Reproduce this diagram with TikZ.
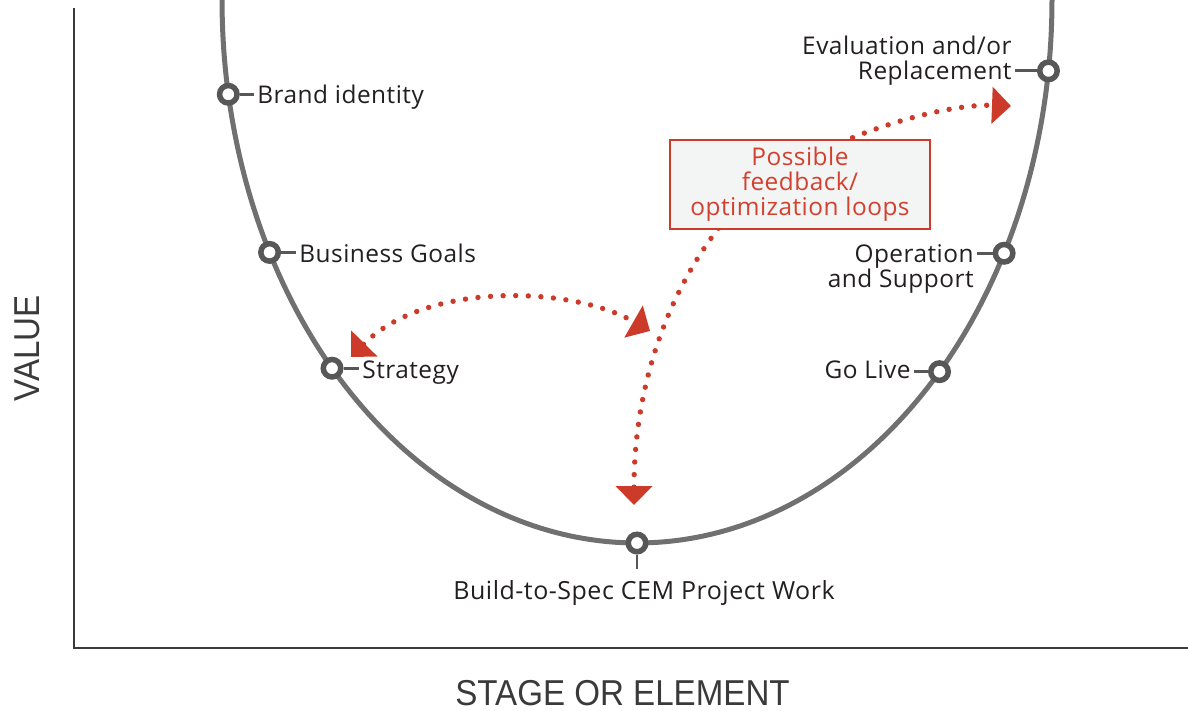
\documentclass[tikz,border=0pt]{standalone}
\usepackage{fontspec}
\usepackage{graphicx}
\setmainfont{Open Sans}[LetterSpace=2]
\newfontfamily\axisfont{Liberation Sans}
\usetikzlibrary{arrows.meta,calc}
\definecolor{curvegray}{HTML}{707070}
\definecolor{ringgray}{HTML}{575757}
\definecolor{txt}{HTML}{231F20}
\definecolor{axisgray}{HTML}{3A3A3A}
\definecolor{loopred}{HTML}{CC3A2A}
\definecolor{looptext}{HTML}{D4402F}
\definecolor{boxfill}{HTML}{F3F5F4}
\begin{document}
\begin{tikzpicture}[x=0.5pt,y=-0.5pt,
  stagedot/.style={circle,draw=ringgray,fill=white,line width=2.75pt,minimum size=8.75pt,inner sep=0pt},
  lbl/.style={text=txt,font=\fontsize{12.2}{12.4}\selectfont,inner sep=0pt},
  tickline/.style={draw=ringgray,line width=1.4pt,shorten >=1.5pt},
  loopline/.style={draw=loopred,line width=2.7pt,line cap=round,dash pattern=on 0pt off 6.3pt},
  twotips/.style={{Triangle[length=9.5pt,width=18pt]}-{Triangle[length=9.5pt,width=18pt]}},
  axisline/.style={draw=axisgray,line width=0.9pt},
  axislbl/.style={text=axisgray,font=\axisfont\fontsize{18}{18}\selectfont,inner sep=0pt},
  loopbox/.style={draw=loopred,line width=1pt,fill=boxfill,text=looptext,align=center,
    minimum width=130pt,minimum height=44.5pt,inner sep=0pt,font=\fontsize{12.2}{12.5}\selectfont}
]
\useasboundingbox (0,0) rectangle (1188,711);

% axes
\coordinate (ytop) at (74,8);
\coordinate (origin) at (74,648);
\coordinate (xend) at (1188,648);
\draw[axisline] (ytop) -- (origin) -- (xend);
\node[axislbl,rotate=90] (yaxis) at (27.5,348.5) {\scalebox{0.92}[1]{VALUE}};
\node[axislbl] (xaxis) at (622.5,693.5) {\scalebox{0.92}[1]{STAGE OR ELEMENT}};

% U curve
\begin{scope}
\clip (0,0) rectangle (1188,711);
\draw[curvegray,line width=2.5pt] plot[domain=-3:183,samples=181] ({637+415*cos(\x)},{543*sin(\x)});
\end{scope}

% stage dots
\foreach \n/\a in {brand/170, goals/152.3, strat/137.3, build/90, golive/43.2, oper/27.8, eval/7.5}
  \node[stagedot] (\n) at ({637+415*cos(\a)},{543*sin(\a)}) {};

% labels
\node[lbl,anchor=base west] (lbrand) at (257,104) {Brand identity};
\node[lbl,anchor=base west] (lgoals) at (299,262.5) {Business Goals};
\node[lbl,anchor=base west] (lstrat) at (362,378) {Strategy};
\node[lbl,anchor=base] (lbuild) at (644,599) {\fontsize{12.5}{12.5}\selectfont Build-to-Spec CEM Project Work};
\node[lbl,anchor=base east] (lgolive) at (911,378) {Go Live};
\node[lbl,anchor=base east,align=right] (loper) at (974,287) {Operation\\and Support};
\node[lbl,anchor=base east,align=right] (leval) at (1012,79.5) {Evaluation and/or\\Replacement};

% ticks
\draw[tickline] (brand.east) -- (brand.east -| lbrand.west);
\draw[tickline] (goals.east) -- (goals.east -| lgoals.west);
\draw[tickline] (strat.east) -- (strat.east -| lstrat.west);
\coordinate (buildtick) at ($(build.south)+(0,14)$);
\draw[tickline,shorten >=0pt] (build.south) -- (buildtick);
\draw[tickline] (golive.west) -- (golive.west -| lgolive.east);
\draw[tickline] (oper.west) -- (oper.west -| loper.east);
\draw[tickline] (eval.west) -- (eval.west -| leval.east);

% feedback loops
\coordinate (buildtip) at (634,505);
\coordinate (evaltip) at (1011,106);
\coordinate (strattip) at (351,357);
\coordinate (midtip) at (650,331);
\draw[loopline,twotips] (strattip) .. controls (425,282) and (570,285) .. (midtip);
\draw[loopline,twotips] (buildtip) .. controls (634,400) and (660,300) .. (725,220)
   .. controls (780,152) and (930,103) .. (evaltip);

\node[loopbox] (fbox) at (800,184.5) {Possible\\feedback/\\optimization loops};
\end{tikzpicture}
\end{document}
